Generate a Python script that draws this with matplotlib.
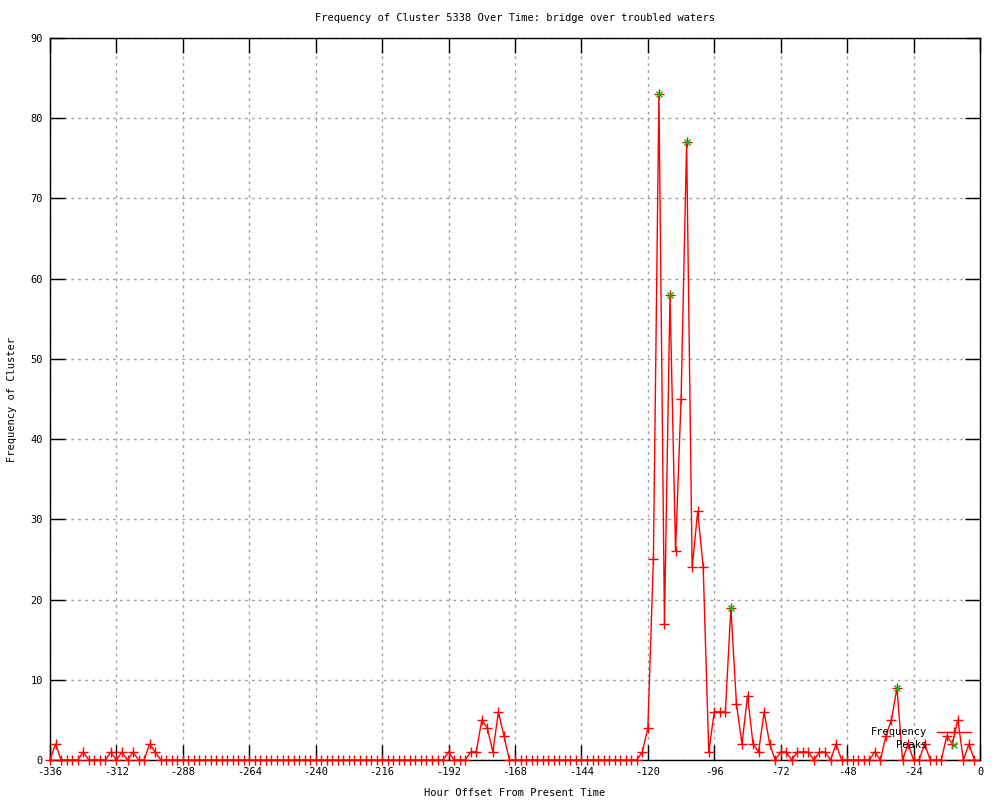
import matplotlib
matplotlib.use('Agg')
import matplotlib.pyplot as plt
from matplotlib.ticker import MultipleLocator

# hour offsets, every 2 hours from -336 to -2
hours = list(range(-336, 0, 2))

# frequency per 2-hour bin, one row per 24 hours
frequency = [
    0, 2, 0, 0, 0, 0, 1, 0, 0, 0, 0, 1,        # -336 .. -314
    0, 1, 0, 1, 0, 0, 2, 1, 0, 0, 0, 0,        # -312 .. -290
    0, 0, 0, 0, 0, 0, 0, 0, 0, 0, 0, 0,        # -288 .. -266
    0, 0, 0, 0, 0, 0, 0, 0, 0, 0, 0, 0,        # -264 .. -242
    0, 0, 0, 0, 0, 0, 0, 0, 0, 0, 0, 0,        # -240 .. -218
    0, 0, 0, 0, 0, 0, 0, 0, 0, 0, 0, 0,        # -216 .. -194
    1, 0, 0, 0, 1, 1, 5, 4, 1, 6, 3, 0,        # -192 .. -170
    0, 0, 0, 0, 0, 0, 0, 0, 0, 0, 0, 0,        # -168 .. -146
    0, 0, 0, 0, 0, 0, 0, 0, 0, 0, 0, 1,        # -144 .. -122
    4, 25, 83, 17, 58, 26, 45, 77, 24, 31, 24, 1,  # -120 .. -98
    6, 6, 6, 19, 7, 2, 8, 2, 1, 6, 2, 0,       # -96 .. -74
    1, 1, 0, 1, 1, 1, 0, 1, 1, 0, 2, 0,        # -72 .. -50
    0, 0, 0, 0, 0, 1, 0, 3, 5, 9, 0, 2,        # -48 .. -26
    0, 0, 2, 0, 0, 0, 3, 2, 5, 0, 2, 0,        # -24 .. -2
]

peak_hours = [-116, -112, -106, -90, -30]
peak_values = [83, 58, 77, 19, 9]

title = 'Frequency of Cluster 5338 Over Time: bridge over troubled waters'

plt.rcParams['font.family'] = ['DejaVu Sans Mono']
plt.rcParams['axes.unicode_minus'] = False

fig = plt.figure(figsize=(10, 8), dpi=100)
ax = fig.add_axes([0.05, 0.05, 0.93, 0.9025])

ax.plot(hours, frequency, color='red', lw=1, marker='+', ms=7, mew=1,
        label='Frequency', clip_on=False, zorder=3)
ax.plot(peak_hours, peak_values, ls='none', marker='x', color='#00c000',
        ms=5, mew=1, label='Peaks', zorder=4)

ax.set_xlim(-336, 0)
ax.set_ylim(0, 90)
ax.xaxis.set_major_locator(MultipleLocator(24))
ax.yaxis.set_major_locator(MultipleLocator(10))
ax.tick_params(direction='in', length=11, width=1, top=True, right=True,
               labelsize=7.5, pad=5)
ax.grid(True, color='#a0a0a0', ls=(0, (2, 3)), lw=1)
for s in ax.spines.values():
    s.set_linewidth(1)

fig.text(0.515, 0.977, title, ha='center', va='center', fontsize=7.5)
ax.set_xlabel('Hour Offset From Present Time', fontsize=7.5, labelpad=8)
ax.set_ylabel('Frequency of Cluster', fontsize=7.5, labelpad=10)

ax.legend(loc='lower right', bbox_to_anchor=(0.996, 0.006), frameon=False,
          markerfirst=False, fontsize=7.5, handlelength=3.3, labelspacing=0.3,
          handletextpad=0.9, borderpad=0)

fig.savefig('out.png', dpi=100)
